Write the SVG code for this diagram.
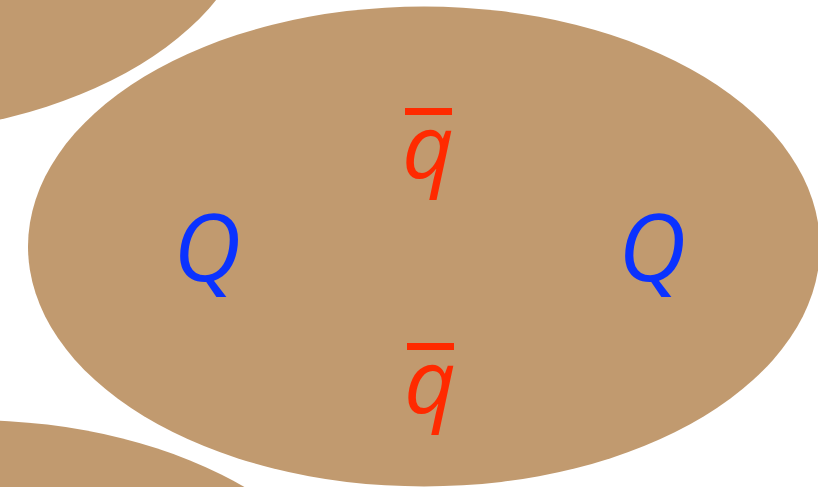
<svg xmlns="http://www.w3.org/2000/svg" width="818" height="487" viewBox="0 0 818 487">
<style>
.blob{fill:#C19A6F}
.Q{fill:#0A32FF;font-family:"Open Sans",sans-serif;font-style:italic;font-size:94px;text-anchor:middle}
.q{fill:#FF2A00;font-family:"Open Sans",sans-serif;font-style:italic;font-size:90px;text-anchor:middle}
.bar{fill:#FF2A00}
</style>
<rect width="818" height="487" fill="#fff"/>
<g id="neighbor-top"><ellipse class="blob" cx="-140" cy="-105" rx="396" ry="240"/></g>
<g id="neighbor-bottom"><ellipse class="blob" cx="-30" cy="660" rx="396" ry="240"/></g>
<g id="hadron"><ellipse class="blob" cx="424" cy="246.5" rx="396" ry="240"/></g>
<g id="Q-left"><text class="Q" x="207" y="281">Q</text></g>
<g id="Q-right"><text class="Q" x="652" y="281">Q</text></g>
<g id="qbar-top"><rect class="bar" x="405" y="108" width="47" height="7"/><text class="q" x="428" y="178">q</text></g>
<g id="qbar-bottom"><rect class="bar" x="407" y="343" width="47" height="7"/><text class="q" x="430" y="413">q</text></g>
</svg>
